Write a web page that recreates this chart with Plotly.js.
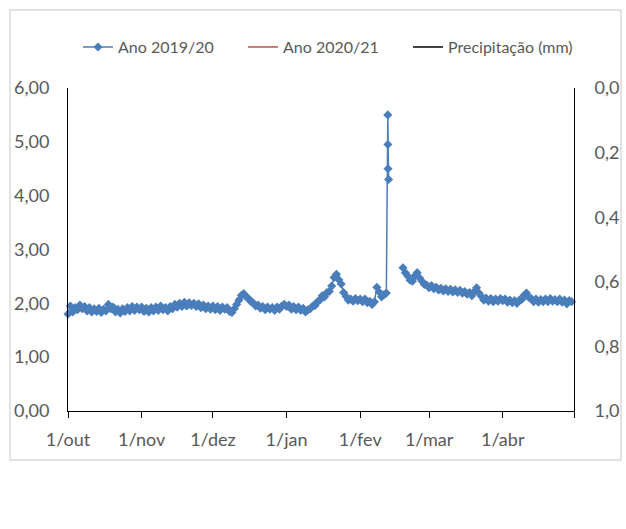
<!DOCTYPE html>
<html><head><meta charset="utf-8">
<script src="https://cdn.plot.ly/plotly-3.0.1.min.js"></script>
<style>html,body{margin:0;padding:0;background:#fff}#chart{width:626px;height:529px}</style>
</head><body><div id="chart"></div><script>
// Month keys and daily values (Ano 2019/20)
const months = ["2019-10","2019-11","2019-12","2020-01","2020-02","2020-03","2020-04"];
const out = [1.80,1.95,1.84,1.92,1.88,1.97,1.90,1.94,1.86,1.92,1.84,1.90,1.85,1.91,1.83,1.89,1.86,1.98,1.90,1.93,1.84,1.89,1.82,1.90,1.85,1.92,1.86,1.94,1.87,1.93,1.88];
const nov = [1.93,1.85,1.91,1.84,1.92,1.86,1.93,1.87,1.95,1.88,1.92,1.86,1.94,1.90,1.98,1.93,2.00,1.94,2.02,1.95,2.01,1.96,2.00,1.94,1.99,1.92,1.97,1.90,1.95,1.89];
const dez = [1.95,1.88,1.94,1.87,1.93,1.89,1.92,1.85,1.83,1.90,1.98,2.06,2.15,2.18,2.12,2.09,2.03,2.01,1.95,1.97,1.91,1.94,1.88,1.93,1.89,1.92,1.87,1.93,1.89,1.95,1.98];
const jan = [1.94,1.97,1.89,1.94,1.88,1.93,1.87,1.91,1.84,1.88,1.90,1.95,1.96,2.03,2.06,2.14,2.12,2.20,2.22,2.32,2.48,2.54,2.44,2.36,2.20,2.13,2.06,2.08,2.04,2.09,2.05];
const fev = [2.08,2.03,2.08,2.01,2.04,1.98,2.03,2.30,2.21,2.12,2.16,2.19,null,null,null,null,null,null,2.66,2.57,2.51,2.43,2.41,2.51,2.57,2.47,2.41,2.35,2.34];
const mar = [2.29,2.33,2.27,2.30,2.25,2.28,2.23,2.27,2.22,2.26,2.21,2.25,2.20,2.24,2.19,2.22,2.17,2.20,2.14,2.22,2.29,2.19,2.13,2.06,2.10,2.04,2.09,2.03,2.08,2.04,2.09];
const abr = [2.05,2.08,2.02,2.06,2.01,2.05,2.00,2.06,2.07,2.15,2.19,2.11,2.09,2.03,2.08,2.02,2.07,2.03,2.08,2.03,2.09,2.04,2.07,2.03,2.08,2.02,2.06,1.99,2.05,2.03];
// Spike readings on 12 Feb
const spikeTimes = ["2020-02-12 15:00","2020-02-12 16:00","2020-02-12 17:00","2020-02-12 23:00"];
const spikeValues = [5.50,4.95,4.50,4.30];
// Other series (no data shown)
const ano2021 = [null];
const precip = [null];
// Ticks
const tickDates = ["2019-10-01","2019-11-01","2019-12-01","2020-01-01","2020-02-01","2020-03-01","2020-04-01","2020-05-01"];
const tickLabels = ["1/out","1/nov","1/dez","1/jan","1/fev","1/mar","1/abr",""];
const y1Ticks = [0,1,2,3,4,5,6];
const y2Ticks = [0,0.2,0.4,0.6,0.8,1.0];

const monthly = [out,nov,dez,jan,fev,mar,abr];
const xs = [], ys = [];
monthly.forEach((arr, mi) => {
  arr.forEach((v, di) => {
    const d = months[mi] + "-" + String(di + 1).padStart(2, "0");
    xs.push(d); ys.push(v);
    if (d === "2020-02-12") {
      spikeTimes.forEach((t, k) => { xs.push(t); ys.push(spikeValues[k]); });
    }
  });
});

const blue = "#4A7EBB";
const gray = "#595959";
const fontFam = "Lato, 'Open Sans', sans-serif";

const traces = [
  {x: xs, y: ys, type: "scatter", mode: "lines+markers", name: "Ano 2019/20",
   line: {color: blue, width: 1.5}, marker: {symbol: "diamond", size: 7, color: blue},
   cliponaxis: false, connectgaps: false},
  {x: [tickDates[0]], y: ano2021, type: "scatter", mode: "lines", name: "Ano 2020/21",
   line: {color: "#C0504D", width: 1.5}},
  {x: [tickDates[0]], y: precip, type: "scatter", mode: "lines", name: "Precipitação (mm)",
   line: {color: "#000000", width: 1.5}, yaxis: "y2"}
];

const layout = {
  width: 626, height: 529,
  margin: {l: 68, r: 52, t: 88, b: 118},
  paper_bgcolor: "#fff", plot_bgcolor: "#fff",
  separators: ",.",
  font: {family: fontFam, color: gray, size: 18},
  showlegend: true,
  legend: {orientation: "h", xref: "container", x: 0.1246, xanchor: "left",
           yref: "container", y: 0.911, yanchor: "middle",
           font: {family: fontFam, size: 16, color: gray}, entrywidth: 120, entrywidthmode: "pixels",
           bgcolor: "rgba(0,0,0,0)"},
  xaxis: {type: "date", range: ["2019-10-01","2020-05-01"], tickmode: "array",
          tickvals: tickDates, ticktext: tickLabels, ticks: "outside", ticklen: 6, tickwidth: 1,
          tickcolor: "#000", showline: true, linecolor: "#000", linewidth: 1, showgrid: false,
          zeroline: false, tickfont: {size: 18, color: gray, family: fontFam}, ticklabelstandoff: 6},
  yaxis: {range: [0, 6], tickmode: "array", tickvals: y1Ticks, tickformat: ".2f",
          showline: true, linecolor: "#000", linewidth: 1, showgrid: false, zeroline: false,
          ticks: "", tickfont: {size: 18, color: gray, family: fontFam}, ticklabelstandoff: 14},
  yaxis2: {range: [1, 0], overlaying: "y", side: "right", tickmode: "array", tickvals: y2Ticks,
           tickformat: ".1f", showline: true, linecolor: "#000", linewidth: 1, showgrid: false,
           zeroline: false, ticks: "", tickfont: {size: 18, color: gray, family: fontFam}, ticklabelstandoff: 16},
  shapes: [{type: "rect", xref: "paper", yref: "paper", x0: -0.1146, x1: 1.0929, y0: -0.1517, y1: 1.2415,
            line: {color: "#D9D9D9", width: 1.5}, fillcolor: "rgba(0,0,0,0)", layer: "below"}]
};

Plotly.newPlot("chart", traces, layout, {staticPlot: true, displayModeBar: false});
</script></body></html>
